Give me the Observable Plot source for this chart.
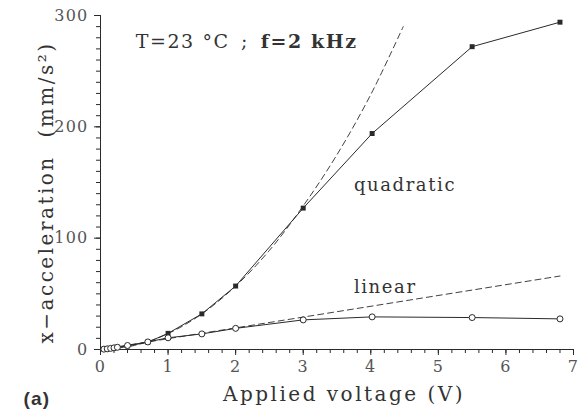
<!DOCTYPE html>
<html>
<head>
<meta charset="utf-8">
<script src="https://cdn.jsdelivr.net/npm/d3@7"></script>
<script src="https://cdn.jsdelivr.net/npm/@observablehq/plot@0.6"></script>
<style>
  body { margin: 0; background: #fff; }
  svg text { letter-spacing: 1.2px; }
  .lbl text { letter-spacing: 2.5px; }
  .ann text { letter-spacing: 1.6px; }
</style>
</head>
<body>
<script>
// Quadratic series (filled squares)
const quadV = [0.05, 0.1, 0.15, 0.2, 0.25, 0.4, 0.7, 1.0, 1.5, 2.0, 3.0, 4.02, 5.5, 6.8];
const quadA = [0.2, 0.5, 0.9, 1.4, 2.0, 3.2, 6.5, 14.5, 32, 57, 127, 194, 272, 294];
// Linear series (open circles)
const linV = [0.05, 0.1, 0.15, 0.2, 0.25, 0.4, 0.7, 1.0, 1.5, 2.0, 3.0, 4.02, 5.5, 6.8];
const linA = [0.3, 0.6, 1.0, 1.5, 2.0, 3.6, 6.8, 10.5, 14, 19, 26.6, 29.3, 28.7, 27.5];
// Dashed quadratic fit
const qFitV = [0, 0.5, 1.0, 1.5, 2.0, 2.5, 3.0, 3.5, 4.0, 4.48];
const qFitA = [0, 3.6, 14.3, 32, 57, 89, 129, 175, 229, 290];
// Dashed linear fit
const lFitV = [0, 6.8];
const lFitA = [0, 66];
// Axes
const xTicks = [0, 1, 2, 3, 4, 5, 6, 7];
const yTicks = [0, 100, 200, 300];
const xMinor = d3.range(0, 7.001, 0.2);
const yMinor = d3.range(0, 300.001, 10);

const quad = quadV.map((v, i) => ({v, a: quadA[i]}));
const lin = linV.map((v, i) => ({v, a: linA[i]}));
const qFit = qFitV.map((v, i) => ({v, a: qFitA[i]}));
const lFit = lFitV.map((v, i) => ({v, a: lFitA[i]}));

const ink = "#2a2a2a";
const serif = "DejaVu Serif";

const chart = Plot.plot({
  width: 579,
  height: 414,
  marginLeft: 100,
  marginRight: 6,
  marginTop: 15,
  marginBottom: 65,
  style: {fontFamily: serif, fontSize: "16px", color: "#444", background: "#fff"},
  x: {domain: [0, 7]},
  y: {domain: [0, 300]},
  marks: [
    // minor ticks
    Plot.axisX({ticks: xMinor, tickSize: 4, text: null, label: null, stroke: ink}),
    Plot.axisY({ticks: yMinor, tickSize: 4, text: null, label: null, stroke: ink}),
    // major ticks with labels
    Plot.axisX({ticks: xTicks, tickSize: 6, tickPadding: 5, tickFormat: d => d, label: null, stroke: ink, fill: "#555"}),
    Plot.axisY({ticks: yTicks, tickSize: 6, tickPadding: 6, tickFormat: d => d, label: null, stroke: ink, fill: "#555"}),
    Plot.ruleY([0], {stroke: ink}),
    Plot.ruleX([0], {stroke: ink}),
    // fits
    Plot.line(qFit, {x: "v", y: "a", stroke: ink, strokeWidth: 0.9, strokeDasharray: "6,4", curve: "catmull-rom"}),
    Plot.line(lFit, {x: "v", y: "a", stroke: ink, strokeWidth: 0.9, strokeDasharray: "6,4"}),
    // data lines
    Plot.line(quad, {x: "v", y: "a", stroke: ink, strokeWidth: 1}),
    Plot.line(lin, {x: "v", y: "a", stroke: ink, strokeWidth: 1}),
    Plot.dot(quad, {x: "v", y: "a", symbol: "square", r: 2.8, fill: ink, stroke: "none"}),
    Plot.dot(lin, {x: "v", y: "a", symbol: "circle", r: 3, fill: "#fff", stroke: ink, strokeWidth: 1}),
    // annotations
    Plot.text(["T=23 °C"], {x: 0.52, y: 271, text: d => d, textAnchor: "start", lineAnchor: "bottom", fontSize: 19, fill: "#333", className: "ann"}),
    Plot.text([";"], {x: 2.08, y: 271, text: d => d, textAnchor: "start", lineAnchor: "bottom", fontSize: 19, fill: "#333"}),
    Plot.text(["f=2 kHz"], {x: 2.37, y: 271, text: d => d, textAnchor: "start", lineAnchor: "bottom", fontSize: 19, fontWeight: "bold", fill: "#333", className: "ann"}),
    Plot.text(["quadratic"], {x: 3.75, y: 142, text: d => d, textAnchor: "start", lineAnchor: "bottom", fontSize: 18, fill: "#333", className: "ann"}),
    Plot.text(["linear"], {x: 3.75, y: 51, text: d => d, textAnchor: "start", lineAnchor: "bottom", fontSize: 18, fill: "#333", className: "ann"}),
    // axis titles
    Plot.text(["Applied voltage (V)"], {frameAnchor: "bottom", dx: 7, dy: 51, text: d => d, textAnchor: "middle", lineAnchor: "bottom", fontSize: 20, fill: "#333", className: "lbl"}),
    Plot.text(["x−acceleration  (mm/s²)"], {frameAnchor: "left", dx: -48, dy: 10, rotate: -90, text: d => d, textAnchor: "middle", lineAnchor: "bottom", fontSize: 20, fill: "#333", className: "lbl"}),
    Plot.text(["(a)"], {frameAnchor: "bottom-left", dx: -77, dy: 55, text: d => d, textAnchor: "start", lineAnchor: "bottom", fontSize: 19, fontWeight: "bold", fontFamily: "Liberation Sans", fill: "#333"})
  ]
});
document.body.appendChild(chart);
</script>
</body>
</html>
